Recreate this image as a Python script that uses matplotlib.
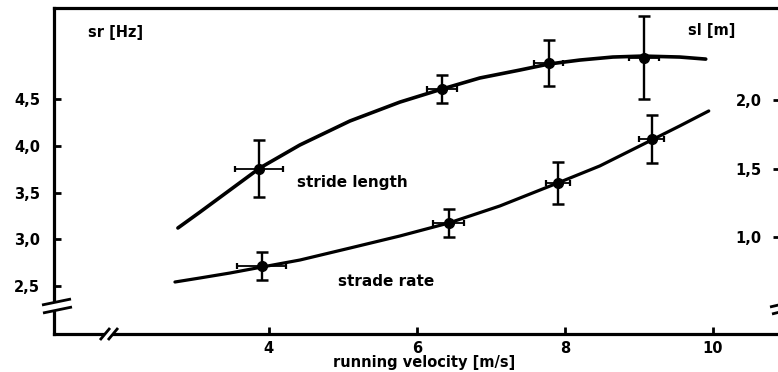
import matplotlib
matplotlib.use("Agg")
import matplotlib.pyplot as plt
from matplotlib.lines import Line2D
from matplotlib.patches import Polygon

# ---------------- data ----------------
# stride length (right axis, sl [m])
sl_v = [3.865, 6.34, 7.78, 9.07]
sl_val = [1.50, 2.08, 2.27, 2.31]
sl_err = [0.21, 0.10, 0.17, 0.30]
sl_verr = [0.325, 0.20, 0.20, 0.20]
sl_curve_v = [2.770, 3.068, 3.473, 3.878, 4.419, 5.095, 5.770, 6.338, 6.851,
              7.392, 7.784, 8.203, 8.649, 9.054, 9.554, 9.905]
sl_curve = [1.066, 1.182, 1.343, 1.504, 1.672, 1.847, 1.985, 2.080, 2.161,
            2.219, 2.263, 2.292, 2.314, 2.321, 2.314, 2.299]

# stride rate (left axis, sr [Hz])
sr_v = [3.905, 6.43, 7.905, 9.175]
sr_val = [2.714, 3.174, 3.602, 4.072]
sr_err = [0.15, 0.155, 0.225, 0.26]
sr_verr = [0.33, 0.21, 0.165, 0.17]
sr_curve_v = [2.730, 3.068, 3.473, 3.905, 4.419, 5.095, 5.770, 6.432, 7.122,
              7.905, 8.473, 9.176, 9.554, 9.946]
sr_curve = [2.543, 2.586, 2.639, 2.703, 2.778, 2.906, 3.035, 3.174, 3.356,
            3.602, 3.784, 4.062, 4.212, 4.372]

x_ticks = [4, 6, 8, 10]
x_ticklabels = ["4", "6", "8", "10"]
left_ticks = [2.5, 3.0, 3.5, 4.0, 4.5]
left_ticklabels = ["2,5", "3,0", "3,5", "4,0", "4,5"]
right_ticks = [1.0, 1.5, 2.0]
right_ticklabels = ["1,0", "1,5", "2,0"]

# ---------------- figure ----------------
W, H = 778, 372
fig = plt.figure(figsize=(W / 100, H / 100), dpi=100)
plt.rcParams['font.family'] = ['DejaVu Sans']
plt.rcParams['font.weight'] = 'bold'

def fx(px):
    return px / W

def fy(py):
    return 1 - py / H

ax_l, ax_r, ax_t, ax_b = 54, 786, 8, 334
ax = fig.add_axes([fx(ax_l), fy(ax_b), (ax_r - ax_l) / W, (ax_b - ax_t) / H])
ax2 = ax.twinx()

ax.set_xlim(1.095, 10.99)
ax.set_ylim(1.987, 5.473)
ax2.set_ylim(0.292, 2.672)

spine_w = 2.3
for s in ['left', 'top', 'bottom']:
    ax.spines[s].set_linewidth(spine_w)
ax.spines['right'].set_visible(False)
for s in ax2.spines.values():
    s.set_visible(False)

tfs = 10.5
ax.set_xticks(x_ticks)
ax.set_xticklabels(x_ticklabels, fontsize=tfs, fontweight='bold')
ax.set_yticks(left_ticks)
ax.set_yticklabels(left_ticklabels, fontsize=tfs, fontweight='bold')
ax.tick_params(axis='x', direction='in', length=5, width=2, pad=5)
ax.tick_params(axis='y', direction='in', length=5, width=2, pad=10)
ax.tick_params(axis='x', which='both', top=False)
ax.tick_params(axis='y', which='both', right=False)

ax2.set_yticks(right_ticks)
ax2.set_yticklabels(right_ticklabels, fontsize=tfs, fontweight='bold')
ax2.tick_params(axis='y', direction='in', length=9.5, width=2, pad=-17.5)
for t in ax2.yaxis.get_major_ticks():
    t.label2.set_horizontalalignment('right')

ax.set_xlabel("running velocity [m/s]", fontsize=10.5, fontweight='bold')
ax.xaxis.set_label_coords(0.505, -(363 - 334) / (ax_b - ax_t))
ax.xaxis.label.set_verticalalignment('center')

# curves
ax2.plot(sl_curve_v, sl_curve, color='black', lw=2.6, solid_capstyle='round',
         solid_joinstyle='round', zorder=3)
ax.plot(sr_curve_v, sr_curve, color='black', lw=2.3, solid_capstyle='round',
        solid_joinstyle='round', zorder=3)

# error bars
for a, v, val, err, verr in [(ax2, sl_v, sl_val, sl_err, sl_verr),
                             (ax, sr_v, sr_val, sr_err, sr_verr)]:
    a.errorbar(v, val, yerr=err, fmt='none', ecolor='black', elinewidth=1.7,
               capsize=4.3, capthick=1.8, zorder=4)
    a.errorbar(v, val, xerr=verr, fmt='none', ecolor='black', elinewidth=1.3,
               capsize=2.2, capthick=1.6, zorder=4)
    a.plot(v, val, 'o', color='black', markersize=7, zorder=5)

# texts
fig.text(fx(88), fy(33), "sr [Hz]", fontsize=10.5, fontweight='bold', ha='left', va='center')
fig.text(fx(688), fy(31), "sl [m]", fontsize=10.5, fontweight='bold', ha='left', va='center')
fig.text(fx(297), fy(183), "stride length", fontsize=11, fontweight='bold', ha='left', va='center')
fig.text(fx(338), fy(282), "strade rate", fontsize=11, fontweight='bold', ha='left', va='center')

# axis-break marks (pixel-positioned decorations)
def brk(p1a, p1b, p2a, p2b):
    poly = Polygon([(fx(p1a[0]), fy(p1a[1])), (fx(p1b[0]), fy(p1b[1])),
                    (fx(p2b[0]), fy(p2b[1])), (fx(p2a[0]), fy(p2a[1]))],
                   closed=True, facecolor='white', edgecolor='none',
                   transform=fig.transFigure, zorder=10)
    fig.add_artist(poly)
    for a_, b_ in [(p1a, p1b), (p2a, p2b)]:
        fig.add_artist(Line2D([fx(a_[0]), fx(b_[0])], [fy(a_[1]), fy(b_[1])],
                              color='black', lw=2.0, transform=fig.transFigure,
                              zorder=11, solid_capstyle='butt'))

brk((42, 305), (71, 299), (43, 313), (72, 307))
brk((100, 340), (110, 328), (108, 340), (118, 328))
brk((770, 307), (800, 300), (772, 314), (800, 307))

fig.savefig("out.png", dpi=100)
